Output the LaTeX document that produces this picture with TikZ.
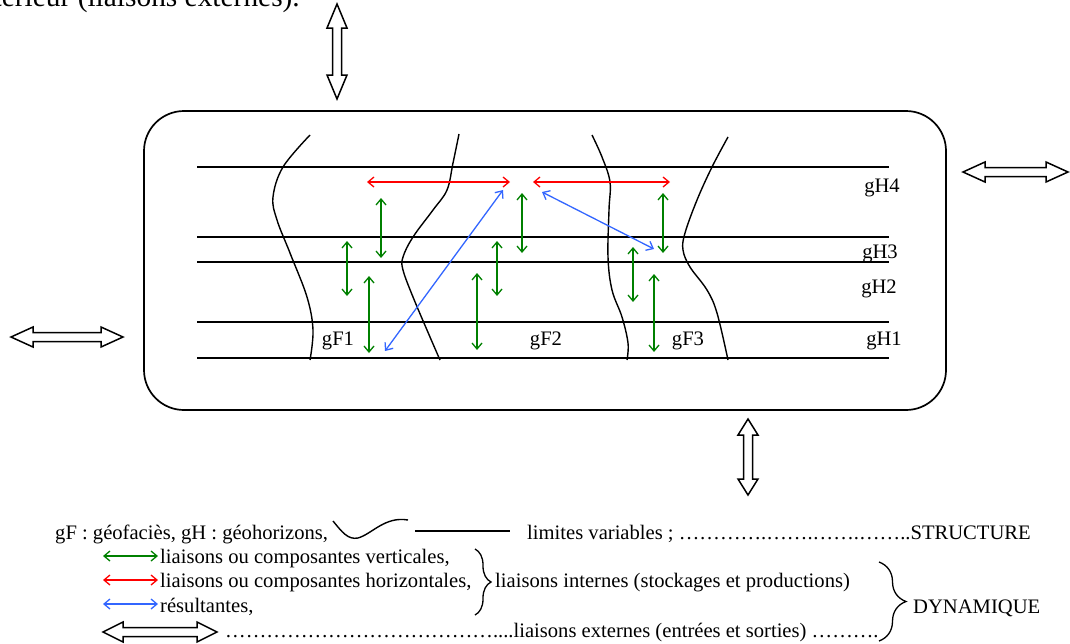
\documentclass[tikz,border=0pt]{standalone}
\usepackage{fontspec}
\setmainfont{Liberation Serif}
\usetikzlibrary{arrows.meta,decorations.pathreplacing}
\definecolor{vgreen}{RGB}{0,128,0}
\definecolor{vred}{RGB}{255,0,0}
\definecolor{vblue}{RGB}{51,102,255}
\newcommand\myell{…}
\tikzset{
  pics/dblarrow/.style 2 args={code={
    \draw[bigar] (-#1/2,0) -- (-#1/2+#2,10) -- (-#1/2+#2,4.5) -- (#1/2-#2,4.5) -- (#1/2-#2,10)
      -- (#1/2,0) -- (#1/2-#2,-10) -- (#1/2-#2,-4.5) -- (-#1/2+#2,-4.5) -- (-#1/2+#2,-10) -- cycle;}},
  bigar/.style={line width=1.5pt, line join=miter, fill=white},
  hline/.style={line width=1.4pt},
  facies/.style={line width=1.4pt},
  greenar/.style={vgreen, line width=1.3pt, <->},
  redar/.style={vred, line width=1.3pt, <->},
  bluear/.style={vblue, line width=1.3pt, <->},
  txt/.style={font=\fontsize{20.6}{24}\selectfont, inner sep=0pt, anchor=base west},
  lab/.style={font=\fontsize{20.6}{24}\selectfont, inner sep=0pt, anchor=base},
  bigtxt/.style={font=\fontsize{29.4}{34}\selectfont, inner sep=0pt, anchor=base east},
  bracedeco/.style={line width=1.3pt, decorate, decoration={brace, amplitude=#1}},
}
\begin{document}
\begin{tikzpicture}[x=1pt,y=-1pt, >={Straight Barb[length=6pt,width=10pt]}]
\useasboundingbox (0,0) rectangle (1070,643);
\clip (0,0) rectangle (1070,643);

% partly visible heading text
\node[bigtxt] (head) at (300,6) {extérieur (liaisons externes).};

% external arrows
\pic[rotate=90] at (337,51.5) {dblarrow={95}{24}};
\pic at (67,337) {dblarrow={112}{22}};
\pic at (1015.5,172) {dblarrow={105}{22}};
\pic[rotate=90] at (748,457) {dblarrow={76}{16}};

% system box
\draw[line width=1.7pt, rounded corners=40pt] (144,111) rectangle (946,410);

% horizons
\foreach \yy in {167,237,262,322,358} \draw[hline] (197,\yy) -- (889,\yy);

% facies limits
\draw[facies] plot[smooth, tension=0.6] coordinates {(310,135) (283,167) (273,197) (277,220) (290,253) (307,297) (313,330) (310,360)};
\draw[facies] plot[smooth, tension=0.6] coordinates {(459,134) (453,163) (447,190) (433,210) (413,237) (403,257) (403,270) (413,297) (430,337) (440,360)};
\draw[facies] plot[smooth, tension=0.6] coordinates {(592,135) (602,157) (610,182) (609,210) (608,257) (612,290) (622,317) (628,343) (627,360)};
\draw[facies] plot[smooth, tension=0.6] coordinates {(728,137) (712,167) (697,200) (685,233) (683,250) (690,267) (707,290) (717,313) (728,360)};

% labels
\node[lab] (gH4) at (882,192) {gH4};
\node[lab] (gH3) at (880,258) {gH3};
\node[lab] (gH2) at (879,293) {gH2};
\node[lab] (gH1) at (884,345) {gH1};
\node[lab] (gF1) at (338,345) {gF1};
\node[lab] (gF2) at (546,345) {gF2};
\node[lab] (gF3) at (688,345) {gF3};

% red (horizontal) links
\coordinate (r1a) at (367,182); \coordinate (r1b) at (510,182);
\coordinate (r2a) at (533,182); \coordinate (r2b) at (670,182);
\draw[redar] (r1a) -- (r1b);
\draw[redar] (r2a) -- (r2b);

% blue resultants
\coordinate (b1a) at (385,351); \coordinate (b1b) at (503,190);
\coordinate (b2a) at (542,192); \coordinate (b2b) at (654,249);
\draw[bluear] (b1a) -- (b1b);
\draw[bluear] (b2a) -- (b2b);

% green vertical links
\coordinate (ga1) at (381,198); \coordinate (ga2) at (381,258);
\coordinate (gb1) at (347,241); \coordinate (gb2) at (347,296);
\coordinate (gc1) at (369,276); \coordinate (gc2) at (369,353);
\coordinate (gd1) at (477,273); \coordinate (gd2) at (477,350);
\coordinate (ge1) at (497,241); \coordinate (ge2) at (497,296);
\coordinate (gf1) at (522,193); \coordinate (gf2) at (522,253);
\coordinate (gg1) at (663,193); \coordinate (gg2) at (663,253);
\coordinate (gh1) at (633,247); \coordinate (gh2) at (633,302);
\coordinate (gi1) at (654,274); \coordinate (gi2) at (654,352);
\foreach \n in {ga,gb,gc,gd,ge,gf,gg,gh,gi} \draw[greenar] (\n1) -- (\n2);

% ---------- legend ----------
\node[txt] (l1) at (55,539) {gF : géofaciès, gH : géohorizons,};
\draw[line width=1.4pt] (333,521) .. controls (342,532) and (348,540) .. (358,538) .. controls (372,534) and (385,516) .. (408,520);
\draw[line width=1.4pt] (415,531) -- (510,531);
\node[txt] (l1b) at (527,539) {limites variables ; ………….…….…….……..STRUCTURE};

\coordinate (lg1) at (103,556); \coordinate (lg2) at (158,556);
\coordinate (lr1) at (103,580); \coordinate (lr2) at (158,580);
\coordinate (lb1) at (103,604); \coordinate (lb2) at (158,604);
\draw[greenar] (lg1) -- (lg2);
\draw[redar] (lr1) -- (lr2);
\draw[bluear] (lb1) -- (lb2);
\node[txt] (l2) at (160,563) {liaisons ou composantes verticales,};
\node[txt] (l3) at (160,587) {liaisons ou composantes horizontales,};
\node[txt] (l4) at (160,612) {résultantes,};

\pic at (160,632) {dblarrow={114}{20}};
\node[txt] (l5) at (225,637) {\myell\myell\myell\myell\myell\myell\myell\myell\myell\myell\myell\myell\myell....liaisons externes (entrées et sorties) \myell\myell\myell.};

\coordinate (br1t) at (475,549); \coordinate (br1b) at (475,615);
\draw[bracedeco=16pt] (br1t) -- (br1b);
\node[txt] (l6) at (495,587) {liaisons internes (stockages et productions)};

\coordinate (br2t) at (879,562); \coordinate (br2b) at (879,641);
\draw[bracedeco=27pt] (br2t) -- (br2b);
\node[txt] (l7) at (913,613) {DYNAMIQUE};
\end{tikzpicture}
\end{document}
